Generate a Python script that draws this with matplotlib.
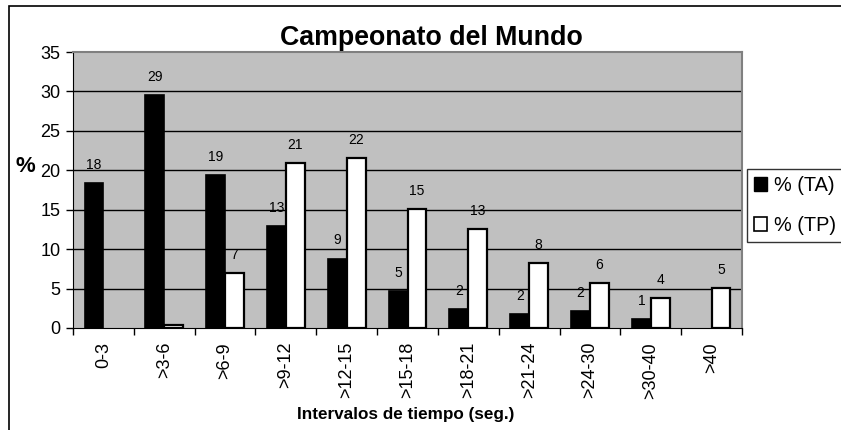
import numpy as np
import matplotlib
matplotlib.use('Agg')
import matplotlib.pyplot as plt
from matplotlib.patches import Patch, Rectangle

plt.rcParams['font.family'] = ['Liberation Sans', 'DejaVu Sans']

# data
intervalos = ["0-3", ">3-6", ">6-9", ">9-12", ">12-15", ">15-18",
              ">18-21", ">21-24", ">24-30", ">30-40", ">40"]
ta = [18.4, 29.5, 19.4, 12.9, 8.8, 4.7, 2.4, 1.8, 2.1, 1.1, 0.0]
tp = [0.0, 0.4, 7.0, 20.9, 21.5, 15.1, 12.6, 8.2, 5.7, 3.8, 5.1]
ta_etiq = ["18", "29", "19", "13", "9", "5", "2", "2", "2", "1", ""]
tp_etiq = ["", "", "7", "21", "22", "15", "13", "8", "6", "4", "5"]

W, H = 841, 430
fig = plt.figure(figsize=(W / 100, H / 100), dpi=100)
ax = fig.add_axes([73 / W, 1 - 328 / H, (742 - 73) / W, (328 - 52) / H])
ax.set_facecolor('#C0C0C0')

x = np.arange(len(intervalos))
bw = 0.31
b1 = ax.bar(x - bw / 2, ta, bw, color='black', edgecolor='black', linewidth=1.2, zorder=3)
b2 = ax.bar(x + bw / 2, tp, bw, color='white', edgecolor='black', linewidth=1.6, zorder=3)
# barras de altura cero no se ven
for r in list(b1) + list(b2):
    if r.get_height() == 0:
        r.set_visible(False)

for bars, etiq in ((b1, ta_etiq), (b2, tp_etiq)):
    for r, t in zip(bars, etiq):
        if t:
            ax.annotate(t, (r.get_x() + r.get_width() / 2, r.get_height()),
                        xytext=(0, 8), textcoords='offset points',
                        ha='center', va='bottom', fontsize=10, zorder=4)

ax.set_xlim(-0.5, len(intervalos) - 0.5)
ax.set_ylim(0, 35)
ax.set_yticks(np.arange(0, 36, 5))
for yv in range(5, 35, 5):
    ax.axhline(yv, color='black', linewidth=1.0, zorder=1)

ax.set_xticks(x)
ax.set_xticklabels(intervalos, rotation=90, fontsize=13)
ax.tick_params(axis='x', which='major', length=0, pad=10)
ax.set_xticks(np.arange(-0.5, len(intervalos), 1), minor=True)
ax.tick_params(axis='x', which='minor', length=5, width=1, direction='out')
ax.tick_params(axis='y', labelsize=13, length=5, width=1, direction='out', pad=4)

for s in ('top', 'right'):
    ax.spines[s].set_color('#808080')
    ax.spines[s].set_linewidth(1.5)
ax.spines['left'].set_color('black')
ax.spines['bottom'].set_color('black')
ax.spines['bottom'].set_zorder(5)

fig.text(431 / W, 1 - 38 / H, "Campeonato del Mundo", ha='center', va='center',
         fontsize=19.3, fontweight='bold')
fig.text(25 / W, 1 - 167 / H, "%", ha='center', va='center',
         fontsize=16, fontweight='bold')
fig.text(406 / W, 1 - 415 / H, "Intervalos de tiempo (seg.)", ha='center', va='center',
         fontsize=12.3, fontweight='bold')

handles = [Patch(facecolor='black', edgecolor='black'),
           Patch(facecolor='white', edgecolor='black', linewidth=1.2)]
leg = fig.legend(handles, ["% (TA)", "% (TP)"], loc='upper left',
                 bbox_to_anchor=(747 / W, 1 - 169 / H), borderaxespad=0,
                 fontsize=14.3, handlelength=0.68, handleheight=0.74,
                 handletextpad=0.35, labelspacing=1.05, borderpad=0.35,
                 frameon=True, fancybox=False, edgecolor='black')
leg.get_frame().set_linewidth(1.0)

# marco exterior del grafico
fig.patches.append(Rectangle((9 / W, -0.1), 1.2, 1 - 6 / H + 0.1, transform=fig.transFigure,
                             fill=False, edgecolor='black', linewidth=1.2))

plt.savefig("out.png", dpi=100)
